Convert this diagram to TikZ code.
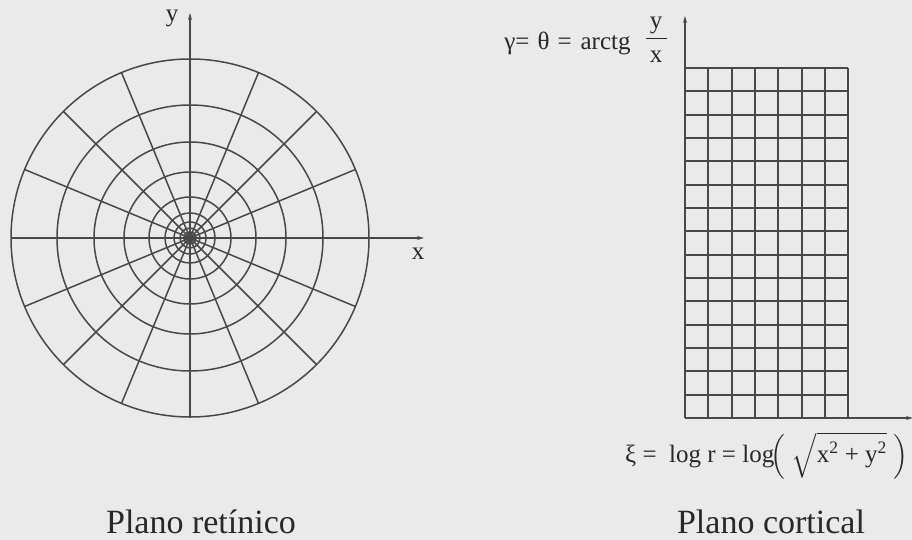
\RequirePackage{fix-cm}
\documentclass[tikz,border=0pt]{standalone}
\usepackage{amsmath}
\usepackage{fontspec}
\setmainfont{Liberation Serif}
\usetikzlibrary{arrows.meta}
\definecolor{fondo}{RGB}{234,234,234}
\definecolor{trazo}{RGB}{72,72,72}
\definecolor{letra}{RGB}{40,40,40}
\newcommand{\tamformula}{\fontsize{25}{30}\selectfont}
\newcommand{\tamtitulo}{\fontsize{34}{40}\selectfont}
\begin{document}
\begin{tikzpicture}[x=1pt,y=1pt,
    malla/.style={trazo, line width=1.5pt},
    eje/.style={trazo, line width=1.2pt, -{Stealth[length=7pt,width=4pt]}},
    rotulo/.style={letra, inner sep=0pt, font=\tamformula}]
    \fill[fondo] (0,0) rectangle (912,540);
    \useasboundingbox (0,0) rectangle (912,540);
    % Plano retínico: círculos de radio decreciente
    \coordinate (O) at (190,302);
    \foreach \r in {179,133,96,66,41,25,16,10,6,3}
        \draw[malla] (O) circle[radius=\r];
    % Radios cada 22.5 grados
    \foreach \a in {22.5,45,...,337.5}
        \draw[malla] (O) -- ++(\a:179);
    % Ejes x, y
    \coordinate (xizq) at (12,302);
    \coordinate (xder) at (424,302);
    \coordinate (yinf) at (190,122);
    \coordinate (ysup) at (190,527);
    \draw[eje] (xizq) -- (xder);
    \draw[eje] (yinf) -- (ysup);
    \node[rotulo] (ly) at (172,522) {y};
    \node[rotulo] (lx) at (418,286) {x};
    % Plano cortical: malla de 7 x 15 celdas (redondeada al pixel)
    \coordinate (C) at (685,122);
    \foreach \i in {0,...,7}{
        \pgfmathtruncatemacro{\xx}{round(685+\i*23.3)}
        \draw[malla] (\xx,122) -- (\xx,472);
    }
    \foreach \j in {0,...,15}{
        \pgfmathtruncatemacro{\yy}{round(122+\j*23.33)}
        \draw[malla] (685,\yy) -- (848,\yy);
    }
    % Ejes del plano cortical
    \coordinate (gsup) at (685,524);
    \coordinate (xiext) at (913,122);
    \draw[eje] (C) -- (gsup);
    \draw[eje] (C) -- (xiext);
    \node[rotulo, anchor=base east] (gamma) at (668,490)
        {γ=\hspace{8pt}θ\hspace{8pt}=\hspace{9pt}arctg\hspace{14pt}\raisebox{5pt}{$\displaystyle\frac{\,\mbox{y}\,}{\,\mbox{x}\,}$}};
    \node[rotulo, anchor=base west] (xi) at (625,77)
        {ξ =\ \ log r = log$\!\Bigl(\;\sqrt{\vphantom{\bigl(}\mbox{x\textsuperscript{2} + y\textsuperscript{2}}}\;\Bigr)$};
    % Títulos
    \node[letra, inner sep=0pt, anchor=base, font=\tamtitulo] (tret) at (201,6) {Plano retínico};
    \node[letra, inner sep=0pt, anchor=base, font=\tamtitulo] (tcor) at (771,6) {Plano cortical};
\end{tikzpicture}
\end{document}
